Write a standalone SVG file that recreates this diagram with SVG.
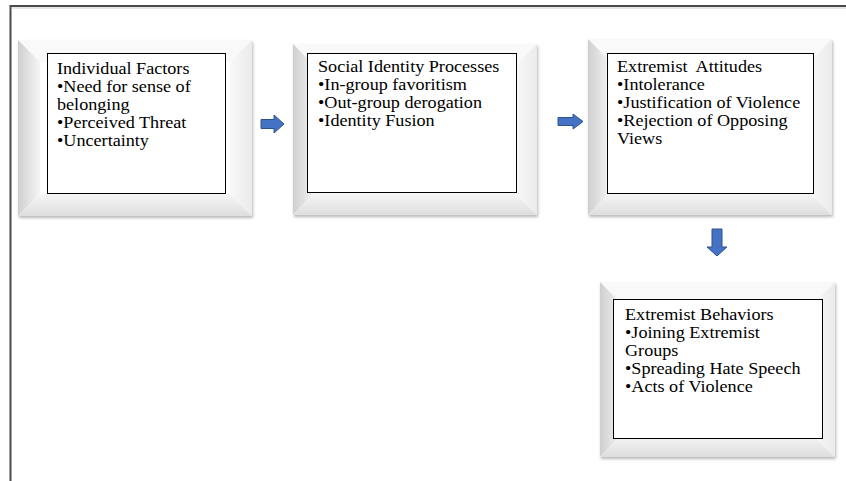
<svg xmlns="http://www.w3.org/2000/svg" width="846" height="481" viewBox="0 0 846 481">
<defs>
<linearGradient id="gl" x1="0" y1="0" x2="1" y2="0"><stop offset="0" stop-color="#cfcfcf"/><stop offset="1" stop-color="#f5f5f5"/></linearGradient>
<linearGradient id="gr" x1="0" y1="0" x2="1" y2="0"><stop offset="0" stop-color="#f8f8f8"/><stop offset="1" stop-color="#ebebeb"/></linearGradient>
<linearGradient id="gb" x1="0" y1="0" x2="0" y2="1"><stop offset="0" stop-color="#f6f6f6"/><stop offset="1" stop-color="#dedede"/></linearGradient>
<filter id="sh" x="-5%" y="-5%" width="115%" height="120%"><feDropShadow dx="1" dy="2" stdDeviation="1.5" flood-color="#000" flood-opacity="0.28"/></filter>
</defs>
<style>
.frame{stroke:#4a4a4a;stroke-width:2;fill:none}
.lf{fill:url(#gl)}.tf{fill:#f9f9f9}.rf{fill:url(#gr)}.bf{fill:url(#gb)}
.face{fill:#ffffff}
.inner{fill:#ffffff;stroke:#000;stroke-width:1}
.t{font-family:"Liberation Serif","Times New Roman",serif;font-size:16.5px;fill:#000}
.arr{fill:#4472c4;stroke:#2f528f;stroke-width:1}
</style>
<rect width="846" height="481" fill="#ffffff"/>
<path class="frame" d="M10.5 481 V6 H846"/>
<line x1="12" y1="8" x2="846" y2="8" stroke="#e6e6e6" stroke-width="2"/>

<g id="node-individual">
<g filter="url(#sh)"><rect x="18" y="40" width="234" height="176" fill="#fff"/></g>
<polygon class="tf" points="18,40 252,40 230,62 40,62"/>
<polygon class="lf" points="18,40 40,62 40,194 18,216"/>
<polygon class="rf" points="252,40 252,216 230,194 230,62"/>
<polygon class="bf" points="18,216 252,216 230,194 40,194"/>
<rect class="face" x="40" y="62" width="190" height="132"/>
<rect class="inner" x="47.5" y="53.5" width="178" height="140"/>
<g transform="translate(57 0) scale(1.1 1)">
<text class="t" x="0" y="74">Individual Factors</text>
<text class="t" x="0" y="92">•Need for sense of</text>
<text class="t" x="0" y="110">belonging</text>
<text class="t" x="0" y="128">•Perceived Threat</text>
<text class="t" x="0" y="146">•Uncertainty</text>
</g>
</g>

<g id="node-social">
<g filter="url(#sh)"><rect x="293" y="44" width="244" height="171" fill="#fff"/></g>
<polygon class="tf" points="293,44 537,44 515,66 315,66"/>
<polygon class="lf" points="293,44 315,66 315,193 293,215"/>
<polygon class="rf" points="537,44 537,215 515,193 515,66"/>
<polygon class="bf" points="293,215 537,215 515,193 315,193"/>
<rect class="face" x="315" y="66" width="200" height="127"/>
<rect class="inner" x="307.5" y="53.5" width="209" height="139"/>
<g transform="translate(318 0) scale(1.1 1)">
<text class="t" x="0" y="72">Social Identity Processes</text>
<text class="t" x="0" y="90">•In-group favoritism</text>
<text class="t" x="0" y="108">•Out-group derogation</text>
<text class="t" x="0" y="126">•Identity Fusion</text>
</g>
</g>

<g id="node-attitudes">
<g filter="url(#sh)"><rect x="588" y="39" width="244" height="176" fill="#fff"/></g>
<polygon class="tf" points="588,39 832,39 810,61 610,61"/>
<polygon class="lf" points="588,39 610,61 610,193 588,215"/>
<polygon class="rf" points="832,39 832,215 810,193 810,61"/>
<polygon class="bf" points="588,215 832,215 810,193 610,193"/>
<rect class="face" x="610" y="61" width="200" height="132"/>
<rect class="inner" x="607.5" y="53.5" width="206" height="140"/>
<g transform="translate(617 0) scale(1.1 1)">
<text class="t" x="0" y="72" xml:space="preserve">Extremist  Attitudes</text>
<text class="t" x="0" y="90">•Intolerance</text>
<text class="t" x="0" y="108">•Justification of Violence</text>
<text class="t" x="0" y="126">•Rejection of Opposing</text>
<text class="t" x="0" y="144">Views</text>
</g>
</g>

<g id="node-behaviors">
<g filter="url(#sh)"><rect x="600" y="282" width="235" height="175" fill="#fff"/></g>
<polygon class="tf" points="600,282 835,282 813,304 622,304"/>
<polygon class="lf" points="600,282 622,304 622,435 600,457"/>
<polygon class="rf" points="835,282 835,457 813,435 813,304"/>
<polygon class="bf" points="600,457 835,457 813,435 622,435"/>
<rect class="face" x="622" y="304" width="191" height="131"/>
<rect class="inner" x="613.5" y="299.5" width="209" height="139"/>
<g transform="translate(625 0) scale(1.1 1)">
<text class="t" x="0" y="320">Extremist Behaviors</text>
<text class="t" x="0" y="338">•Joining Extremist</text>
<text class="t" x="0" y="356">Groups</text>
<text class="t" x="0" y="374">•Spreading Hate Speech</text>
<text class="t" x="0" y="392">•Acts of Violence</text>
</g>
</g>

<g id="connectors">
<polygon class="arr" points="261,119.5 274,119.5 274,115 284,124 274,133 274,128.5 261,128.5"/>
<polygon class="arr" points="558,117.5 573,117.5 573,114 583,121.5 573,129 573,125.5 558,125.5"/>
<polygon class="arr" points="712,229 722,229 722,247 727,247 717,256 707,247 712,247"/>
</g>
</svg>
